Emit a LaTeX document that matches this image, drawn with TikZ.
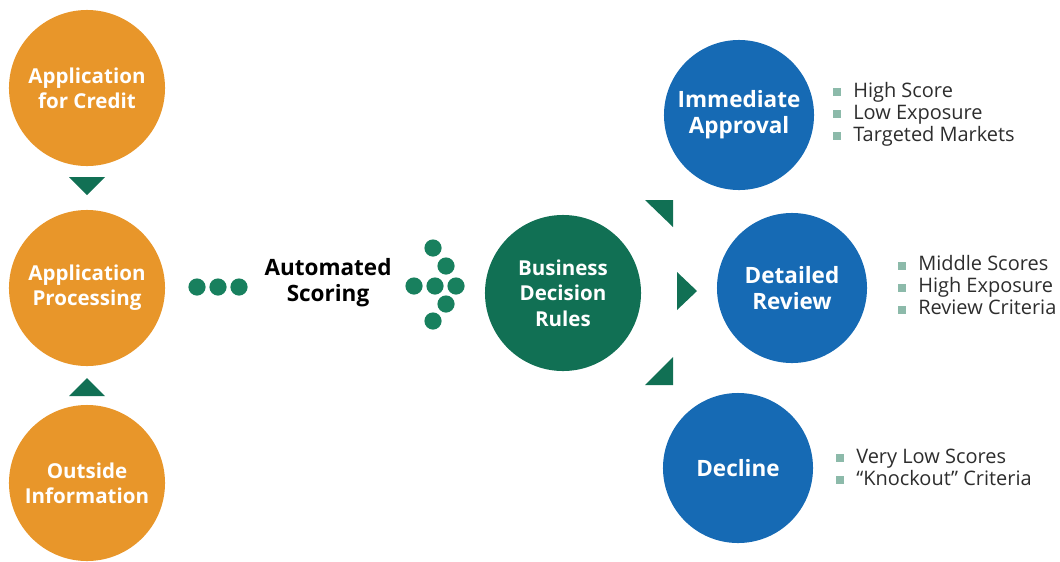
\documentclass[tikz,border=0pt]{standalone}
\usepackage{fontspec}
\setmainfont{Open Sans}
\usetikzlibrary{positioning,calc}

\definecolor{creditorange}{RGB}{232,150,42}
\definecolor{rulegreen}{RGB}{17,112,84}
\definecolor{dotgreen}{RGB}{24,128,94}
\definecolor{outcomeblue}{RGB}{22,106,180}
\definecolor{bulletgrey}{RGB}{140,186,170}
\definecolor{listgrey}{RGB}{45,45,45}

% grey square in front of every criterion
\newcommand{\critem}[1]{\textcolor{bulletgrey}{\rule[0.02cm]{0.2cm}{0.2cm}}\hspace{0.3cm}#1}

\begin{document}
\begin{tikzpicture}[
    x=0.025cm, y=-0.025cm,
    every node/.style={font=\fontsize{14.2}{15.7}\selectfont},
    stage/.style={circle, fill=creditorange, minimum size=3.9cm, inner sep=0pt, align=center, text=white, font=\bfseries\fontsize{14.6}{18}\selectfont},
    rules/.style={stage, fill=rulegreen},
    outcome/.style={stage, fill=outcomeblue, minimum size=3.75cm, font=\bfseries\fontsize{16}{18.5}\selectfont},
    dot/.style={circle, fill=dotgreen, minimum size=0.43cm, inner sep=0pt},
    wedge/.style={fill=rulegreen},
    criteria/.style={anchor=west, align=left, inner sep=0pt, text=listgrey}
]
\useasboundingbox (0,0) rectangle (1060,561);

% input side
\node[stage] (credit) at (87,88) {Application\\for Credit};
\node[stage] (processing) at (87,288) {Application\\Processing};
\node[stage] (outside) at (87,483) {Outside\\Information};
\fill[wedge] (69,177) -- (105,177) -- (87,195) -- cycle;
\fill[wedge] (87,378) -- (105,396) -- (69,396) -- cycle;

% scoring
\foreach \i/\x in {1/197, 2/218, 3/239}
    \node[dot] (lead\i) at (\x,287) {};
\node[font=\bfseries\fontsize{16}{18.5}\selectfont, text=black, align=center] (scoring) at (328,283) {Automated\\Scoring};
\foreach \i/\x/\y in {1/433/248, 2/446/266, 3/414/286, 4/435/286, 5/456/286, 6/446/304, 7/433/321}
    \node[dot] (arrow\i) at (\x,\y) {};

\node[rules] (rules) at (563,293) {Business\\Decision\\Rules};
\fill[wedge] (645,200) -- (673,200) -- (673,227) -- cycle;
\fill[wedge] (677,272) -- (697,291) -- (677,310) -- cycle;
\fill[wedge] (673,357) -- (673,385) -- (645,385) -- cycle;

% outcomes
\node[outcome] (approval) at (739,115) {Immediate\\Approval};
\node[outcome] (review) at (792,288) {Detailed\\Review};
\node[outcome] (decline) at (738,468) {Decline};

\node[criteria] (approvallist) at (833,114) {\critem{High Score}\\\critem{Low Exposure}\\\critem{Targeted Markets}};
\node[criteria] (reviewlist) at (898,285) {\critem{Middle Scores}\\\critem{High Exposure}\\\critem{Review Criteria}};
\node[criteria] (declinelist) at (836,467) {\critem{Very Low Scores}\\\critem{``Knockout'' Criteria}};
\end{tikzpicture}
\end{document}
